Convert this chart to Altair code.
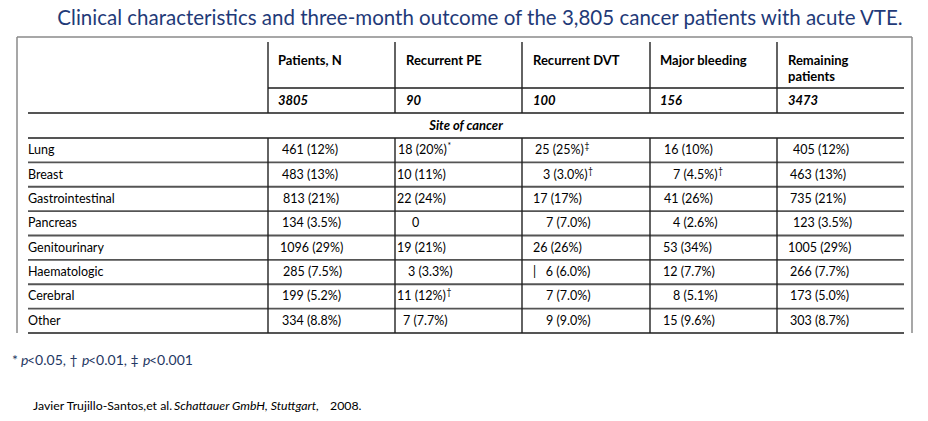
import altair as alt
import pandas as pd

# ---------------- data ----------------
TITLE = "Clinical characteristics and three-month outcome of the 3,805 cancer patients with acute VTE."
COLUMNS = ["Patients, N", "Recurrent PE", "Recurrent DVT", "Major bleeding", "Remaining"]
COLUMNS_LINE2 = ["", "", "", "", "patients"]
TOTALS = ["3805", "90", "100", "156", "3473"]
SECTION = "Site of cancer"
SITES = ["Lung", "Breast", "Gastrointestinal", "Pancreas", "Genitourinary",
         "Haematologic", "Cerebral", "Other"]
PATIENTS = ["461 (12%)", "483 (13%)", "813 (21%)", "134 (3.5%)", "1096 (29%)",
            "285 (7.5%)", "199 (5.2%)", "334 (8.8%)"]
REC_PE = ["18 (20%)*", "10 (11%)", "22 (24%)", "0", "19 (21%)",
          "3 (3.3%)", "11 (12%)†", "7 (7.7%)"]
REC_DVT = ["25 (25%)‡", "3 (3.0%)†", "17 (17%)", "7 (7.0%)", "26 (26%)",
           "|\u00a0\u00a0\u00a06 (6.0%)", "7 (7.0%)", "9 (9.0%)"]
MAJOR_BLEEDING = ["16 (10%)", "7 (4.5%)†", "41 (26%)", "4 (2.6%)", "53 (34%)",
                  "12 (7.7%)", "8 (5.1%)", "15 (9.6%)"]
REMAINING = ["405 (12%)", "463 (13%)", "735 (21%)", "123 (3.5%)", "1005 (29%)",
             "266 (7.7%)", "173 (5.0%)", "303 (8.7%)"]
FOOTNOTE = [("*", "normal"), ("p", "italic"), ("<0.05, †", "normal"), ("p", "italic"),
            ("<0.01, ‡", "normal"), ("p", "italic"), ("<0.001", "normal")]
CITATION = [("Javier Trujillo-Santos,et al.", "normal"),
            ("Schattauer GmbH, Stuttgart,", "italic"), ("2008.", "normal")]
MARKS = "*†‡"

# ---------------- layout (pixel positions of the page) ----------------
W, H = 912, 405
XS = alt.Scale(domain=[8, 8 + W], nice=False, zero=False)
YS = alt.Scale(domain=[8 + H, 8], nice=False, zero=False)
FONT = "Lato"
TSIZE = 12.5
FRAME = dict(left=17, right=912, top=37, bottom=333)
TBL_L, TBL_R = 28, 904
COL_EDGES = [268, 395, 522, 650, 777]
HEAD_TOP, HEAD_LINE, TOT_LINE, SEC_LINE = 42, 88, 113, 138
ROW_H = 24.375
ROW_EDGES = [SEC_LINE + i * ROW_H for i in range(len(SITES) + 1)]
HEAD_INDENT = [10, 11, 11, 10, 11]
CELL_INDENT = [
    [14, 14, 15, 14, 12, 15, 14, 14],
    [3, 2, 2, 17, 2, 13, 2, 8],
    [13, 21, 11, 24, 11, 11, 24, 24],
    [14, 23, 14, 23, 13, 13, 23, 13],
    [16, 13, 13, 16, 11, 13, 13, 13],
]
FOOT_X = [12, 21, 27, 82, 88, 143, 149]
FOOT_Y = 361
CIT_X = [33, 174, 330]
CIT_Y = 406

# rough Lato advance widths (em) for placing superscript marks
EM = {**{d: 0.58 for d in "0123456789"}, " ": 0.193, "(": 0.29, ")": 0.29,
      "%": 0.78, ".": 0.23, "|": 0.24, "\u00a0": 0.193}


def est_width(s, size):
    return sum(EM.get(c, 0.55) for c in s) * size


def text_layer(rows, size, weight="normal", style="normal", color="#000000",
               align="left", dy=0, font=FONT):
    df = pd.DataFrame(rows, columns=["x", "y", "t"])
    return alt.Chart(df).mark_text(
        align=align, baseline="middle", fontSize=size, fontWeight=weight,
        fontStyle=style, color=color, font=font, dy=dy
    ).encode(
        x=alt.X("x:Q", scale=XS, axis=None),
        y=alt.Y("y:Q", scale=YS, axis=None),
        text="t:N",
    )


def rule_layer(segs, color, width):
    df = pd.DataFrame(segs, columns=["x", "y", "x2", "y2"])
    return alt.Chart(df).mark_rule(color=color, strokeWidth=width).encode(
        x=alt.X("x:Q", scale=XS, axis=None),
        y=alt.Y("y:Q", scale=YS, axis=None),
        x2="x2:Q",
        y2="y2:Q",
    )


# frame (left, top, right)
frame = rule_layer([
    (FRAME["left"], FRAME["top"], FRAME["left"], FRAME["bottom"]),
    (FRAME["left"], FRAME["top"], FRAME["right"], FRAME["top"]),
    (FRAME["right"], FRAME["top"], FRAME["right"], FRAME["bottom"]),
], "#8a8a8a", 1.5)

# horizontal table lines
hsegs = [(COL_EDGES[0], HEAD_LINE, TBL_R, HEAD_LINE)]
for y in [TOT_LINE] + ROW_EDGES:
    hsegs.append((TBL_L, y, TBL_R, y))
hlines = rule_layer(hsegs, "#555555", 1.8)

# vertical column lines (interrupted by the section row)
vsegs = []
for x in COL_EDGES:
    vsegs.append((x, HEAD_TOP, x, TOT_LINE))
    vsegs.append((x, SEC_LINE, x, ROW_EDGES[-1]))
vlines = rule_layer(vsegs, "#222222", 1.4)

# header texts
head_rows = []
for i, (c, c2) in enumerate(zip(COLUMNS, COLUMNS_LINE2)):
    head_rows.append((COL_EDGES[i] + HEAD_INDENT[i], 61, c))
    if c2:
        head_rows.append((COL_EDGES[i] + HEAD_INDENT[i], 77, c2))
heads = text_layer(head_rows, 13, weight="bold")

tot_rows = [(COL_EDGES[i] + HEAD_INDENT[i], (HEAD_LINE + TOT_LINE) / 2, t)
            for i, t in enumerate(TOTALS)]
tots = text_layer(tot_rows, 13, weight="bold", style="italic")

section = text_layer([(466, (TOT_LINE + SEC_LINE) / 2, SECTION)], 13,
                     weight="bold", style="italic", align="center")

# body
label_rows = [(TBL_L, (ROW_EDGES[r] + ROW_EDGES[r + 1]) / 2, s) for r, s in enumerate(SITES)]
cell_rows, mark_rows = [], []
for ci, col in enumerate([PATIENTS, REC_PE, REC_DVT, MAJOR_BLEEDING, REMAINING]):
    for r, v in enumerate(col):
        yc = (ROW_EDGES[r] + ROW_EDGES[r + 1]) / 2
        x0 = COL_EDGES[ci] + CELL_INDENT[ci][r]
        main, mark = (v[:-1], v[-1]) if v[-1] in MARKS else (v, "")
        cell_rows.append((x0, yc, main))
        if mark:
            mark_rows.append((x0 + est_width(main, TSIZE) + 1, yc, mark))
labels = text_layer(label_rows, TSIZE)
cells = text_layer(cell_rows, TSIZE)
marks = text_layer(mark_rows, 8.5, dy=-4)

# title, footnote, citation
title = text_layer([(480, 18.5, TITLE)], 20.5, color="#1f3a78", align="center")
foot_norm = text_layer([(FOOT_X[i], FOOT_Y, t) for i, (t, s) in enumerate(FOOTNOTE) if s == "normal"],
                       14, color="#1f3864")
foot_ital = text_layer([(FOOT_X[i], FOOT_Y, t) for i, (t, s) in enumerate(FOOTNOTE) if s == "italic"],
                       14, style="italic", color="#1f3864")
cit_norm = text_layer([(CIT_X[i], CIT_Y, t) for i, (t, s) in enumerate(CITATION) if s == "normal"], 12.3)
cit_ital = text_layer([(CIT_X[i], CIT_Y, t) for i, (t, s) in enumerate(CITATION) if s == "italic"], 12.3,
                      style="italic")

chart = alt.layer(
    frame, hlines, vlines, heads, tots, section, labels, cells, marks,
    title, foot_norm, foot_ital, cit_norm, cit_ital,
).properties(
    width=W, height=H, padding=0, autosize=alt.AutoSizeParams(type="none"),
    background="white",
).configure_view(stroke=None)

chart.save("out.html", embed_options={"renderer": "svg", "actions": False})
